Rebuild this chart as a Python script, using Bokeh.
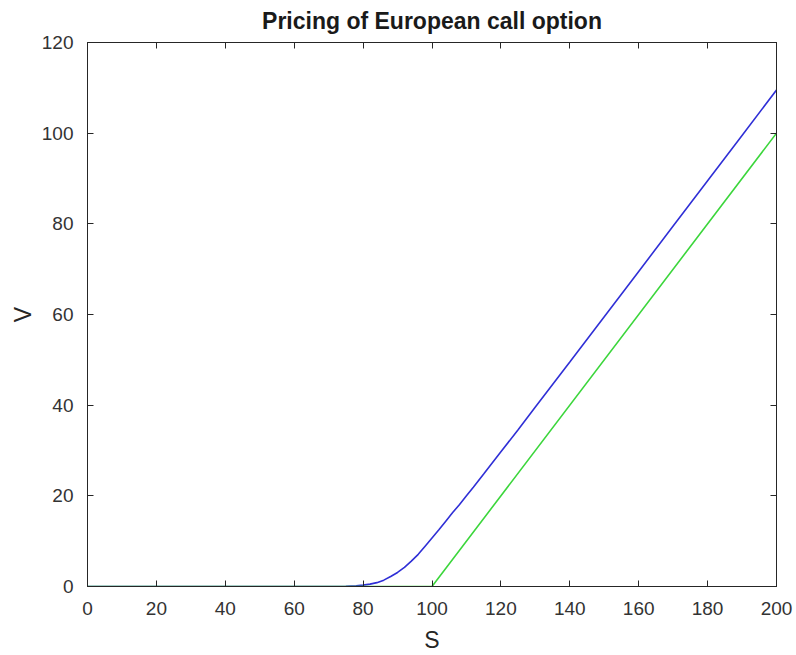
from bokeh.plotting import figure
from bokeh.models import LinearAxis, SingleIntervalTicker, Range1d, CustomLabelingPolicy
from bokeh.embed import file_html
from bokeh.resources import INLINE

# Underlying asset price grid and option value (blue curve)
s_values = [0, 10, 20, 30, 40, 50, 60, 70, 75, 78, 80, 82, 84, 86, 88, 90,
            92, 94, 96, 98, 100, 102, 104, 106, 108, 110, 112, 115, 120,
            125, 130, 140, 150, 160, 170, 180, 190, 200]
call_values = [0.0, 0.0, 0.0, 0.0, 0.0, 0.0, 0.0, 0.0, 0.04, 0.15, 0.3,
               0.52, 0.85, 1.4, 2.2, 3.1, 4.2, 5.6, 7.1, 8.9, 10.7, 12.5,
               14.4, 16.3, 18.1, 20.0, 21.9, 24.8, 29.7, 34.6, 39.6, 49.5,
               59.5, 69.5, 79.5, 89.5, 99.5, 109.5]

# Payoff at expiry (green curve)
payoff_s = [0, 100, 200]
payoff_values = [0, 0, 100]

x_ticks = [0, 20, 40, 60, 80, 100, 120, 140, 160, 180, 200]
y_ticks = [0, 20, 40, 60, 80, 100, 120]

FONT = "Liberation Sans"
DARK = "#262626"

p = figure(width=796, height=655, output_backend="svg", toolbar_location=None,
           x_range=Range1d(0, 200), y_range=Range1d(0, 120),
           min_border_left=87, min_border_right=20,
           min_border_top=42, min_border_bottom=69,
           title="Pricing of European call option")

p.title.align = "center"
p.title.text_font = FONT
p.title.text_font_size = "23px"
p.title.text_font_style = "bold"
p.title.text_color = "#1a1a1a"

p.background_fill_color = "white"
p.border_fill_color = "white"
p.outline_line_color = DARK
p.outline_line_width = 1
p.xgrid.visible = False
p.ygrid.visible = False

p.line(s_values, call_values, line_color="#2f2fd6", line_width=1.6)
p.line(payoff_s, payoff_values, line_color="#3cd63c", line_width=1.6)

# box-style frame: the top and right axes carry ticks only
no_labels = CustomLabelingPolicy(code="return new Set()")


def style_axis(ax, interval, show_labels):
    ax.ticker = SingleIntervalTicker(interval=interval)
    ax.minor_tick_line_color = None
    ax.major_tick_in = 6
    ax.major_tick_out = 0
    ax.major_tick_line_color = DARK
    ax.axis_line_color = DARK
    ax.major_label_text_font = FONT
    ax.major_label_text_color = "#333333"
    if show_labels:
        ax.major_label_text_font_size = "19px"
    else:
        ax.major_label_policy = no_labels
        ax.major_label_text_font_size = "0px"
        ax.major_label_standoff = 0


xa = p.xaxis[0]
ya = p.yaxis[0]
style_axis(xa, 20, True)
style_axis(ya, 20, True)
xa.major_label_standoff = 11
ya.major_label_standoff = 10

xa.axis_label = "S"
ya.axis_label = "V"
for ax in (xa, ya):
    ax.axis_label_text_font = FONT
    ax.axis_label_text_font_size = "23px"
    ax.axis_label_text_font_style = "normal"
    ax.axis_label_text_color = DARK
xa.axis_label_standoff = 9
ya.axis_label_standoff = 3

top_axis = LinearAxis()
right_axis = LinearAxis()
style_axis(top_axis, 20, False)
style_axis(right_axis, 20, False)
p.add_layout(top_axis, "above")
p.add_layout(right_axis, "right")

open("out.html", "w").write(file_html(p, INLINE))
